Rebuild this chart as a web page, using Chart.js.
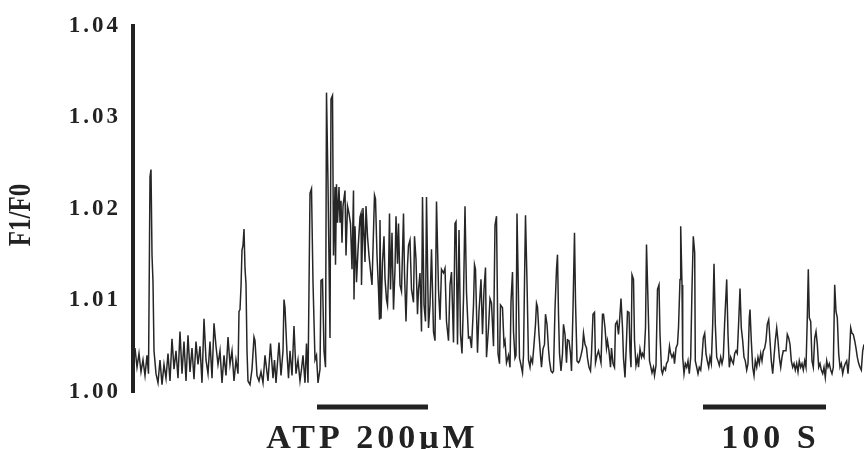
<!DOCTYPE html>
<html>
<head>
<meta charset="utf-8">
<script src="https://cdn.jsdelivr.net/npm/chart.js@4.4.1/dist/chart.umd.min.js"></script>
<style>
  body { margin: 0; background: #fff; }
  #wrap { width: 864px; height: 449px; position: relative; }
</style>
</head>
<body>
<div id="wrap"><canvas id="trace"></canvas></div>
<script>
// acquisition frames (1 frame = 100/123 s) and F1/F0 ratio
var frames = [
  2, 4, 6, 8, 10, 12, 14, 15.5,
  17, 18, 19, 20, 21,
  23, 25, 27, 29, 31, 33, 35, 37, 39, 41,
  43, 45, 47, 49, 51, 53, 55, 57, 59, 61,
  63, 65, 67, 69, 71, 73, 75, 77, 79, 81,
  83, 85, 87, 89, 91, 93, 95, 97, 99, 101,
  103, 105,
  106, 107, 108, 109, 110, 111, 112, 113, 114, 115,
  117, 119, 121,
  122, 124, 126, 128, 130, 132, 135, 137.5, 140, 141.5,
  143, 146, 148, 150, 151, 152, 154, 155.5, 157, 159,
  161, 163, 165, 167, 168.5, 170, 172, 173.5, 175, 177,
  178.5, 180, 182, 183.5, 185, 187, 188, 189.5, 191, 192.5,
  193.5, 195, 197, 198, 199.5, 200.5, 202, 202.5, 203.5, 204.5,
  206, 207, 208, 209, 210, 212, 213, 214.5, 216, 217.5,
  219, 220.5, 221, 222, 223.5, 225, 227, 228, 228.5, 230,
  232, 233, 234.5, 236, 238, 239, 241.5, 242.5, 244, 245.5,
  246.5,
  247, 248, 249.5, 251, 252, 253.5, 254.5, 255.5, 256.5, 257.5,
  259, 260.5, 262, 263, 264.5, 265.5, 267, 268.5, 270.5, 271.5,
  273, 274.5, 275.5, 277, 278.5, 280.5, 281.5, 283, 284.5, 285.5,
  287, 288.5, 289.5, 291, 292.5, 293.5, 295.5, 297, 298.5, 300.5,
  302, 303.5, 305.5, 307, 308.5, 310.5, 312, 313.5, 315.5, 317,
  318.5, 320.5, 322, 323, 324.5, 326, 327.5, 329, 330.5, 332,
  333.5, 335.5, 337, 338.5, 340.5, 341.5, 342.5, 344.5, 346, 348,
  349.5, 351, 352.5, 353.5, 355.5, 357, 358.5, 360.5, 362, 363.5,
  365, 366.5, 367.5, 369.5, 371,
  372, 373.5, 375.5, 377, 378, 379.5, 380.5, 382, 383, 384,
  385.5, 386.5, 387.5, 389.5, 390.5, 391.5, 392.5, 394, 395.5, 397,
  398, 399.5, 401, 402.5, 403.5, 404.5, 406, 407.5, 408.5, 410,
  411.5, 412.5, 414, 415.5, 416.5, 418, 419.5, 420.5, 422, 423.5,
  424.5, 425.5, 426.5, 428, 429.5, 430.5, 432, 433.5, 434.5, 436,
  437.5, 438.5, 440, 441.5, 442.5, 444, 445.5, 446.5, 448, 449.5,
  450.5, 452, 453.5, 454.5, 456, 457.5, 458.5, 460, 461.5, 462.5,
  464, 465.5, 466.5, 468, 469.5, 470.5, 472, 473.5, 474.5, 476,
  477.5, 478.5, 480, 481.5, 482.5, 484, 485.5, 486.5, 488, 489.5,
  490.5, 492, 493.5, 494.5, 496,
  497, 498, 499, 500.5, 501.5, 503, 504.5, 505.5, 507, 508.5,
  509.5, 511, 512.5, 513.5, 515, 516.5, 517.5, 519, 520.5, 521.5,
  523, 524.5, 526, 527, 528.5, 529.5, 531, 532.5, 533.5, 535,
  536.5, 537.5, 539, 540.5, 541.5, 543, 544.5, 545.5, 547, 547.7,
  549, 549.7, 551, 552.3, 553.7, 555, 556.3, 557.7, 559, 560.3,
  561.7, 562.3, 563.7, 565, 566.3, 567.7, 569, 570.3, 571.7, 573,
  574.3, 575.7, 577, 578.3, 579.7, 581, 582.3, 583.7, 585, 586.3,
  587.7, 589, 590.3, 591.7, 593.7, 595, 596.3, 597.7, 599, 600.3,
  601.7, 603, 604.3, 605.7, 607, 608.3, 609.7, 611, 612.3, 613.7,
  615, 616.3,
  617, 618.3, 619.7, 621, 622.3, 623.7, 625, 626.3, 627.7, 629,
  630.3, 631.7, 633, 634.3, 635.7, 637, 638.3, 639.7, 641, 642.3,
  643.7, 645, 646.3, 647.7, 649, 650.3, 651.7, 653, 654.3, 655.7,
  657, 658.3, 659.7, 661, 662.3, 663.7, 665, 666.3, 667.7, 669,
  670.3, 671.7, 673, 674.3, 675.3, 676.3, 677.7, 679, 680.3, 681.7,
  683, 684.3, 685.7, 687, 688.3, 689.7, 691, 692.3, 693.7, 695,
  696.3, 697.7, 699, 700.3, 701.7, 703, 704.3, 705.7, 707, 708.3,
  709.7, 711, 712.3, 713.7, 715, 716.3, 717.7, 719, 720.3, 721.7,
  723, 724.3, 725.7, 727, 728.3, 729.7, 731
];

var ratio = [
  1.0048, 1.0027, 1.0042, 1.0022, 1.0035, 1.0018, 1.0040, 1.0020,
  1.0235, 1.0243, 1.0150, 1.0120, 1.0045,
  1.0020, 1.0010, 1.0035, 1.0008, 1.0030, 1.0015, 1.0042, 1.0012, 1.0058, 1.0025,
  1.0045, 1.0015, 1.0066, 1.0020, 1.0055, 1.0012, 1.0062, 1.0022, 1.0048, 1.0014,
  1.0055, 1.0030, 1.0050, 1.0010, 1.0080, 1.0035, 1.0020, 1.0055, 1.0015, 1.0075,
  1.0050, 1.0030, 1.0045, 1.0010, 1.0040, 1.0018, 1.0060, 1.0030, 1.0045, 1.0012,
  1.0035, 1.0020,
  1.0088, 1.0090, 1.0115, 1.0155, 1.0160, 1.0178, 1.0135, 1.0118, 1.0045, 1.0012,
  1.0008, 1.0025, 1.0060,
  1.0056, 1.0018, 1.0012, 1.0022, 1.0010, 1.0040, 1.0012, 1.0053, 1.0015, 1.0035,
  1.0010, 1.0054, 1.0018, 1.0045, 1.0101, 1.0092, 1.0042, 1.0015, 1.0045, 1.0018,
  1.0072, 1.0020, 1.0035, 1.0012, 1.0025, 1.0040, 1.0010, 1.0053, 1.0010, 1.0217,
  1.0222, 1.0120, 1.0035, 1.0040, 1.0010, 1.0025, 1.0122, 1.0123, 1.0045, 1.0027,
  1.0327, 1.0227, 1.0059, 1.0320, 1.0324, 1.0149, 1.0224, 1.0139, 1.0227, 1.0185,
  1.0224, 1.0185, 1.0209, 1.0163, 1.0203, 1.0220, 1.0149, 1.0203, 1.0195, 1.0184,
  1.0134, 1.0220, 1.0101, 1.0181, 1.0120, 1.0155, 1.0191, 1.0195, 1.0117, 1.0201,
  1.0142, 1.0203, 1.0170, 1.0149, 1.0127, 1.0117, 1.0215, 1.0211, 1.0149, 1.0112,
  1.0079,
  1.0188, 1.0080, 1.0142, 1.0170, 1.0124, 1.0101, 1.0095, 1.0128, 1.0195, 1.0112,
  1.0174, 1.0090, 1.0134, 1.0192, 1.0140, 1.0184, 1.0117, 1.0110, 1.0195, 1.0130,
  1.0077, 1.0138, 1.0160, 1.0166, 1.0112, 1.0098, 1.0170, 1.0145, 1.0085, 1.0112,
  1.0130, 1.0066, 1.0213, 1.0095, 1.0077, 1.0213, 1.0070, 1.0095, 1.0156, 1.0066,
  1.0056, 1.0208, 1.0112, 1.0079, 1.0134, 1.0130, 1.0135, 1.0077, 1.0056, 1.0117,
  1.0131, 1.0054, 1.0184, 1.0186, 1.0052, 1.0177, 1.0063, 1.0042, 1.0102, 1.0203,
  1.0109, 1.0059, 1.0060, 1.0048, 1.0095, 1.0139, 1.0134, 1.0043, 1.0088, 1.0123,
  1.0063, 1.0112, 1.0136, 1.0038, 1.0070, 1.0102, 1.0097, 1.0050, 1.0182, 1.0192,
  1.0042, 1.0031, 1.0095, 1.0092, 1.0052,
  1.0056, 1.0032, 1.0040, 1.0027, 1.0099, 1.0131, 1.0066, 1.0037, 1.0040, 1.0195,
  1.0102, 1.0037, 1.0032, 1.0021, 1.0040, 1.0120, 1.0193, 1.0120, 1.0035, 1.0027,
  1.0037, 1.0032, 1.0052, 1.0074, 1.0097, 1.0093, 1.0063, 1.0040, 1.0027, 1.0047,
  1.0052, 1.0085, 1.0074, 1.0047, 1.0034, 1.0023, 1.0021, 1.0023, 1.0091, 1.0134,
  1.0150, 1.0085, 1.0042, 1.0023, 1.0042, 1.0074, 1.0063, 1.0032, 1.0057, 1.0056,
  1.0042, 1.0023, 1.0091, 1.0174, 1.0099, 1.0034, 1.0032, 1.0034, 1.0040, 1.0048,
  1.0064, 1.0052, 1.0048, 1.0037, 1.0027, 1.0023, 1.0042, 1.0085, 1.0087, 1.0032,
  1.0040, 1.0045, 1.0040, 1.0032, 1.0085, 1.0085, 1.0070, 1.0048, 1.0056, 1.0045,
  1.0027, 1.0048, 1.0031, 1.0027, 1.0074, 1.0077, 1.0063, 1.0077, 1.0102, 1.0070,
  1.0037, 1.0016, 1.0056, 1.0088, 1.0087,
  1.0045, 1.0027, 1.0128, 1.0123, 1.0056, 1.0029, 1.0038, 1.0027, 1.0047, 1.0038,
  1.0042, 1.0038, 1.0070, 1.0161, 1.0099, 1.0034, 1.0029, 1.0021, 1.0027, 1.0018,
  1.0029, 1.0112, 1.0117, 1.0063, 1.0024, 1.0020, 1.0027, 1.0024, 1.0031, 1.0034,
  1.0050, 1.0043, 1.0038, 1.0042, 1.0031, 1.0048, 1.0052, 1.0070, 1.0123, 1.0181,
  1.0117, 1.0038, 1.0020, 1.0031, 1.0027, 1.0034, 1.0020, 1.0038, 1.0113, 1.0170,
  1.0152, 1.0034, 1.0027, 1.0020, 1.0027, 1.0024, 1.0038, 1.0059, 1.0064, 1.0042,
  1.0034, 1.0027, 1.0038, 1.0031, 1.0074, 1.0140, 1.0074, 1.0038, 1.0034, 1.0029,
  1.0038, 1.0031, 1.0038, 1.0077, 1.0123, 1.0063, 1.0027, 1.0038, 1.0034, 1.0031,
  1.0042, 1.0045, 1.0042, 1.0077, 1.0113, 1.0070, 1.0056, 1.0038, 1.0034, 1.0024,
  1.0031, 1.0081,
  1.0090, 1.0056, 1.0027, 1.0018, 1.0034, 1.0027, 1.0038, 1.0031, 1.0042, 1.0034,
  1.0045, 1.0048, 1.0056, 1.0074, 1.0079, 1.0056, 1.0034, 1.0020, 1.0038, 1.0056,
  1.0070, 1.0056, 1.0038, 1.0027, 1.0038, 1.0045, 1.0045, 1.0045, 1.0063, 1.0059,
  1.0052, 1.0034, 1.0027, 1.0031, 1.0024, 1.0031, 1.0022, 1.0034, 1.0027, 1.0031,
  1.0024, 1.0034, 1.0027, 1.0081, 1.0134, 1.0081, 1.0077, 1.0034, 1.0027, 1.0059,
  1.0066, 1.0052, 1.0027, 1.0031, 1.0024, 1.0020, 1.0027, 1.0016, 1.0034, 1.0027,
  1.0031, 1.0024, 1.0020, 1.0027, 1.0117, 1.0088, 1.0081, 1.0042, 1.0027, 1.0031,
  1.0020, 1.0027, 1.0031, 1.0034, 1.0020, 1.0038, 1.0070, 1.0064, 1.0063, 1.0056,
  1.0048, 1.0038, 1.0031, 1.0027, 1.0024, 1.0045, 1.0052
];

var yTicks = [1.00, 1.01, 1.02, 1.03, 1.04];
var yTitle = 'F1/F0';

// ATP application (frames) and the 100 s scale bar
var atpBar = [184, 295];
var atpLabel = 'ATP 200\u03bcM';
var framesPer100s = 123;
var scaleBarStart = 570;
var scaleLabel = '100 S';

var ink = '#222222';
var serif = '"Liberation Serif", "Times New Roman", serif';

var points = frames.map(function(f, i) { return { x: f, y: ratio[i] }; });

var annotations = {
    id: 'annotations',
    beforeDraw: function(chart) {
        chart.ctx.letterSpacing = '3px';
    },
    afterDraw: function(chart) {
        var ctx = chart.ctx;
        var xs = chart.scales.x;
        var bottom = chart.chartArea.bottom;

        ctx.save();
        ctx.fillStyle = ink;

        // bars under the trace
        var bars = [atpBar, [scaleBarStart, scaleBarStart + framesPer100s]];
        bars.forEach(function(b) {
            var x1 = xs.getPixelForValue(b[0]);
            var x2 = xs.getPixelForValue(b[1]);
            ctx.fillRect(x1, bottom + 12.5, x2 - x1, 5);
        });

        // bar labels
        ctx.letterSpacing = '4px';
        ctx.font = 'bold 34px ' + serif;
        ctx.textAlign = 'center';
        ctx.textBaseline = 'alphabetic';
        var atpMid = xs.getPixelForValue((atpBar[0] + atpBar[1]) / 2);
        ctx.fillText(atpLabel, atpMid, bottom + 56);
        var sMid = xs.getPixelForValue(scaleBarStart + framesPer100s / 2);
        ctx.fillText(scaleLabel, sMid + 6, bottom + 56);

        // y title, tall condensed look
        ctx.letterSpacing = '0px';
        ctx.translate(22, 215);
        ctx.rotate(-Math.PI / 2);
        ctx.scale(1, 1.3);
        ctx.font = 'bold 25px ' + serif;
        ctx.textBaseline = 'middle';
        ctx.fillText(yTitle, 0, 0);
        ctx.restore();
    }
};

var ctx = document.getElementById('trace').getContext('2d');
var chart = new Chart(ctx, {
    type: 'line',
    data: {
        datasets: [{
            data: points,
            borderColor: '#262626',
            borderWidth: 1.5,
            pointRadius: 0,
            tension: 0,
            fill: false
        }]
    },
    options: {
        responsive: true,
        maintainAspectRatio: false,
        animation: false,
        layout: { padding: { top: 18, bottom: 57, left: 0, right: 0 } },
        plugins: {
            legend: { display: false },
            tooltip: { enabled: false }
        },
        scales: {
            x: {
                type: 'linear',
                min: 0,
                max: 731,
                display: false
            },
            y: {
                min: 1.0,
                max: 1.04,
                afterFit: function(s) { s.width = 133; },
                afterBuildTicks: function(s) {
                    s.ticks = yTicks.map(function(v) { return { value: v }; });
                },
                grid: { display: false, drawTicks: false },
                border: { display: true, width: 4, color: ink },
                ticks: {
                    padding: 12,
                    color: ink,
                    font: { family: serif, size: 23, weight: 'bold' },
                    callback: function(v) { return v.toFixed(2); }
                }
            }
        }
    },
    plugins: [annotations]
});
</script>
</body>
</html>
